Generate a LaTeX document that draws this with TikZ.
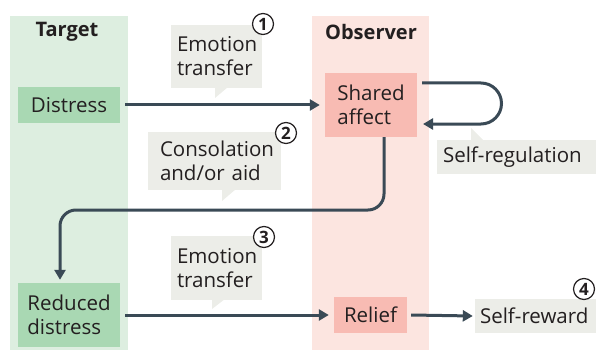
\documentclass[tikz,border=0pt]{standalone}
\usepackage{fontspec}
\setmainfont{Open Sans}
\usetikzlibrary{arrows.meta,calc}
\definecolor{tcol}{HTML}{DDEEE0}
\definecolor{tbox}{HTML}{A9D8B3}
\definecolor{ocol}{HTML}{FCE5E0}
\definecolor{obox}{HTML}{F8BBB3}
\definecolor{call}{HTML}{ECEDE8}
\definecolor{arr}{HTML}{3A4A56}
\definecolor{ink}{HTML}{231F20}
\begin{document}
\begin{tikzpicture}[x=1pt,y=-1pt,
  every node/.style={font=\fontsize{20.5}{24}\selectfont, text=ink},
  colhead/.style={font=\fontsize{20}{24}\selectfont\bfseries},
  tbx/.style={fill=tbox, inner sep=0pt, align=left},
  obx/.style={fill=obox, inner sep=0pt, align=left},
  callout/.style={fill=call, inner ysep=0pt, align=left},
  num/.style={circle, draw=ink, line width=1.2pt, fill=white, inner sep=0pt, minimum size=21pt, font=\fontsize{17}{17}\selectfont\bfseries},
  flow/.style={draw=arr, line width=3pt, -{Triangle[length=10pt,width=11pt]}, rounded corners=16pt}
]
\useasboundingbox (0,0) rectangle (596,350);
% columns
\fill[tcol] (10,16) rectangle (128,350);
\fill[ocol] (312,16) rectangle (429,350);
\node[colhead] (tgt) at (67,32) {Target};
\node[colhead] (obs) at (371,32) {Observer};
% boxes
\node[tbx, minimum width=102pt, minimum height=36pt] (dis) at (69,105) {Distress};
\node[obx, minimum width=92pt, minimum height=64pt] (sha) at (371,105) {Shared\\affect};
\node[tbx, minimum width=102pt, minimum height=64pt] (red) at (69,315) {Reduced\\distress};
\node[obx, minimum width=73pt, minimum height=36pt] (rel) at (370.5,315) {Relief};
% callouts
\node[callout, inner xsep=6pt, text width=79pt, minimum height=63pt] (c1) at (216.5,56.5) {Emotion\\transfer};
\fill[call] (215,87) -- (215,98) -- (228,87) -- cycle;
\node[callout, inner xsep=12pt, text width=109pt, minimum height=58pt] (c2) at (214.5,161) {Consolation\\and/or aid};
\fill[call] (222,189) -- (222,201) -- (236,189) -- cycle;
\node[callout, inner xsep=6pt, text width=79pt, minimum height=64pt] (c3) at (216.5,268) {Emotion\\transfer};
\fill[call] (212,299) -- (212,309) -- (225,299) -- cycle;
\node[callout, inner xsep=6pt, text width=147pt, minimum height=34pt] (sr) at (516.5,157) {Self-regulation};
\fill[call] (471,141) -- (471,128) -- (484,141) -- cycle;
\node[callout, inner xsep=5pt, text width=111pt, minimum height=34pt] (sw) at (535.5,316) {Self-reward};
% numbers
\node[num] (n1) at (263,24) {1};
\node[num] (n2) at (286,133) {2};
\node[num] (n3) at (264,237) {3};
\node[num] (n4) at (584,289) {4};
% connectors
\draw[flow] ($(dis.east)+(5,0)$) -- ($(sha.west)+(-5,0)$);
\coordinate (la) at (422,83);
\coordinate (lb) at (423,124);
\draw[draw=arr, line width=3pt, -{Triangle[length=10pt,width=11pt]}] (la) -- (481,83) arc[start angle=-90, end angle=90, radius=20.5] -- (lb);
\coordinate (s0) at (384,137);
\draw[flow] (s0) -- (384,210) -- (60,210) -- ($(red.north)+(-9,-3)$);
\draw[flow] ($(red.east)+(5,0)$) -- ($(rel.west)+(-5,0)$);
\draw[flow] ($(rel.east)+(4,0)$) -- ($(sw.west)+(-2,0)$);
\end{tikzpicture}
\end{document}
